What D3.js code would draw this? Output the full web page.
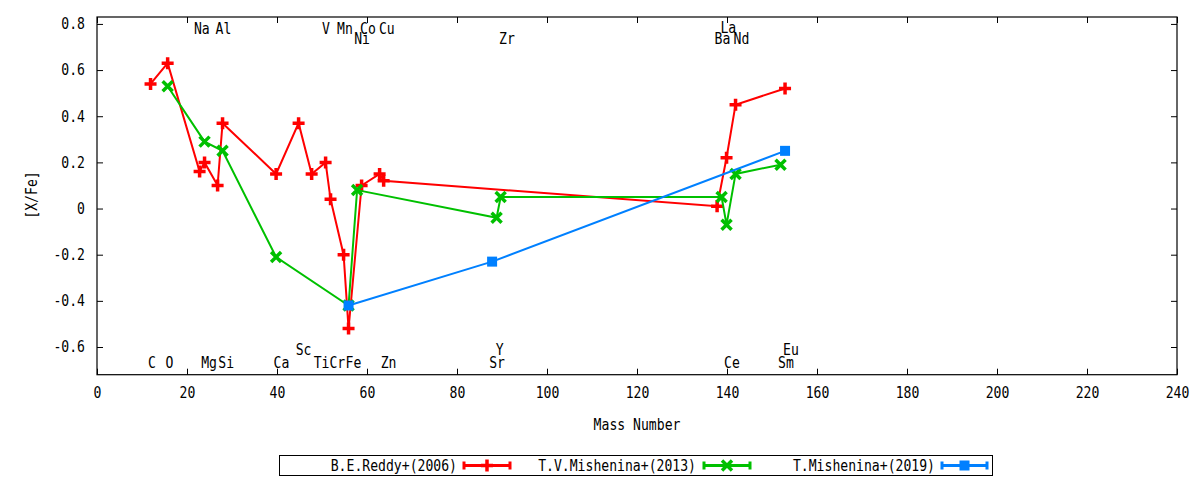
<!DOCTYPE html>
<html>
<head>
<meta charset="utf-8">
<script src="https://cdn.jsdelivr.net/npm/d3@7"></script>
<style>
  body { margin: 0; background: #fff; }
  text { font-family: "DejaVu Sans Mono", monospace; font-size: 15px; fill: #000; }
</style>
</head>
<body>
<svg id="chart" width="1200" height="480"></svg>
<script>
// Series data: mass number and [X/Fe]
const reddyMass = [11.9, 15.7, 22.8, 23.9, 26.8, 27.9, 39.8, 44.8, 47.7, 50.8, 51.9, 54.8, 55.9, 58.8, 62.8, 63.7, 137.8, 139.9, 141.9, 152.9];
const reddyXFe  = [0.54, 0.63, 0.16, 0.20, 0.10, 0.37, 0.15, 0.37, 0.15, 0.20, 0.04, -0.20, -0.52, 0.10, 0.15, 0.12, 0.01, 0.22, 0.45, 0.52];

const mish13Mass = [15.7, 23.9, 27.9, 39.8, 55.9, 57.8, 88.8, 89.7, 138.8, 139.9, 141.9, 151.9];
const mish13XFe  = [0.53, 0.29, 0.25, -0.21, -0.42, 0.08, -0.04, 0.05, 0.05, -0.07, 0.15, 0.19];

const mish19Mass = [55.9, 87.8, 152.9];
const mish19XFe  = [-0.42, -0.23, 0.25];

// Element labels drawn inside the plot (mass number, [X/Fe] position)
const elemNames = ["C", "O", "Mg", "Si", "Ca", "Sc", "Ti", "Cr", "Fe", "Zn",
                   "Na", "Al", "V", "Mn", "Ni", "Co", "Cu",
                   "Sr", "Y", "Zr", "Ba", "La", "Ce", "Nd", "Sm", "Eu"];
const elemX = [12.2, 16.1, 24.9, 28.7, 41.0, 45.9, 49.9, 53.4, 57.0, 64.8,
               23.3, 28.1, 50.9, 55.1, 58.9, 60.2, 64.4,
               88.9, 89.5, 91.1, 139.0, 140.3, 141.1, 143.2, 153.1, 154.2];
const elemY = [-0.670, -0.670, -0.670, -0.670, -0.670, -0.612, -0.670, -0.670, -0.670, -0.670,
               0.781, 0.781, 0.781, 0.781, 0.734, 0.781, 0.781,
               -0.670, -0.612, 0.734, 0.734, 0.783, -0.670, 0.734, -0.670, -0.612];

const xTicks = d3.range(0, 241, 20);
const yTicks = [-0.6, -0.4, -0.2, 0, 0.2, 0.4, 0.6, 0.8];

const seriesNames = ["B.E.Reddy+(2006)", "T.V.Mishenina+(2013)", "T.Mishenina+(2019)"];
const seriesColors = ["#ff0000", "#00c000", "#0080ff"];

// Layout
const margin = { top: 17, right: 23, bottom: 105, left: 97 };
const W = 1200, H = 480;
const width = W - margin.left - margin.right;
const height = H - margin.top - margin.bottom - 0.3;
const textSqueeze = 0.875; // narrow glyphs like the gnuplot font

const svg = d3.select("#chart");

const x = d3.scaleLinear().domain([0, 240]).range([margin.left, margin.left + width]);
const y = d3.scaleLinear().domain([-0.72, 0.83]).range([margin.top + height, margin.top]);

const fmtY = d => d === 0 ? "0" : d.toFixed(1);

// Axes with inward ticks, mirrored on top and right
svg.append("g")
  .attr("transform", `translate(0, ${ y.range()[0] })`)
  .call(d3.axisBottom(x).tickValues(xTicks).tickSizeInner(-6).tickSizeOuter(0).tickPadding(13))
  .call(g => g.select(".domain").remove());

svg.append("g")
  .attr("transform", `translate(0, ${ y.range()[1] })`)
  .call(d3.axisTop(x).tickValues(xTicks).tickSizeInner(-6).tickSizeOuter(0).tickFormat(""))
  .call(g => g.select(".domain").remove());

svg.append("g")
  .attr("transform", `translate(${ x.range()[0] }, 0)`)
  .call(d3.axisLeft(y).tickValues(yTicks).tickSizeInner(-6).tickSizeOuter(0).tickPadding(12).tickFormat(fmtY))
  .call(g => g.select(".domain").remove());

svg.append("g")
  .attr("transform", `translate(${ x.range()[1] }, 0)`)
  .call(d3.axisRight(y).tickValues(yTicks).tickSizeInner(-6).tickSizeOuter(0).tickFormat(""))
  .call(g => g.select(".domain").remove());

svg.selectAll(".tick text").attr("font-family", "DejaVu Sans Mono").attr("font-size", 15).attr("fill", "#000");
svg.selectAll(".tick line").attr("stroke", "#000");

// Frame
svg.append("rect")
  .attr("x", x.range()[0])
  .attr("y", y.range()[1])
  .attr("width", width)
  .attr("height", height)
  .attr("fill", "none")
  .attr("stroke", "#000")
  .attr("stroke-width", 1.2);

// Axis titles
svg.append("text")
  .attr("x", (x.range()[0] + x.range()[1]) / 2)
  .attr("y", 425)
  .attr("text-anchor", "middle")
  .attr("dominant-baseline", "central")
  .text("Mass Number");

svg.append("text")
  .attr("transform", "translate(32, 195) rotate(-90)")
  .attr("text-anchor", "middle")
  .attr("dominant-baseline", "central")
  .text("[X/Fe]");

// Element labels
svg.append("g").selectAll("text")
  .data(elemNames)
  .enter()
  .append("text")
  .attr("x", (d, i) => x(elemX[i]))
  .attr("y", (d, i) => y(elemY[i]))
  .attr("text-anchor", "middle")
  .attr("dominant-baseline", "central")
  .text(d => d);

// Marker shapes
const markerPath = [
  "M-6,0H6M0,-6V6",
  "M-5,-5L5,5M-5,5L5,-5",
  null
];

function drawMarker(g, k, px, py)
{
  if (k === 2)
  {
    g.append("rect")
      .attr("x", px - 5).attr("y", py - 5)
      .attr("width", 10).attr("height", 10)
      .attr("fill", seriesColors[k]);
  }
  else
  {
    g.append("path")
      .attr("d", markerPath[k])
      .attr("transform", `translate(${ px }, ${ py })`)
      .attr("fill", "none")
      .attr("stroke", seriesColors[k])
      .attr("stroke-width", 3.5);
  }
}

// Series
const allMass = [reddyMass, mish13Mass, mish19Mass];
const allXFe = [reddyXFe, mish13XFe, mish19XFe];

const line = d3.line().x(d => x(d[0])).y(d => y(d[1]));

allMass.forEach((m, k) =>
{
  const pts = m.map((v, i) => [v, allXFe[k][i]]);
  const g = svg.append("g");
  g.append("path")
    .datum(pts)
    .attr("d", line)
    .attr("fill", "none")
    .attr("stroke", seriesColors[k])
    .attr("stroke-width", 2);
  pts.forEach(p => drawMarker(g, k, x(p[0]), y(p[1])));
});

// Legend
const legend = svg.append("g");
legend.append("rect")
  .attr("x", 279.5).attr("y", 455.5)
  .attr("width", 713).attr("height", 20)
  .attr("fill", "none")
  .attr("stroke", "#000");

const legendTextEnd = [457, 696, 935];
const legendSample = [[464, 510], [704, 750], [942, 987]];

seriesNames.forEach((name, k) =>
{
  const cy = 465.5;
  legend.append("text")
    .attr("x", legendTextEnd[k])
    .attr("y", cy)
    .attr("text-anchor", "end")
    .attr("dominant-baseline", "central")
    .text(name);
  const [a, b] = legendSample[k];
  legend.append("path")
    .attr("d", `M${ a },${ cy }H${ b }M${ a },${ cy - 4 }V${ cy + 4 }M${ b },${ cy - 4 }V${ cy + 4 }`)
    .attr("stroke", seriesColors[k])
    .attr("stroke-width", 3)
    .attr("fill", "none");
  drawMarker(legend, k, (a + b) / 2, cy);
});

// Squeeze every text horizontally around its anchor point
svg.selectAll("text").each(function ()
{
  const t = d3.select(this);
  const tx = +t.attr("x") || 0;
  const ty = +t.attr("y") || 0;
  const prev = t.attr("transform") || "";
  t.attr("x", null).attr("y", null)
    .attr("transform", `${ prev } translate(${ tx }, ${ ty }) scale(${ textSqueeze }, 1)`);
});
</script>
</body>
</html>
